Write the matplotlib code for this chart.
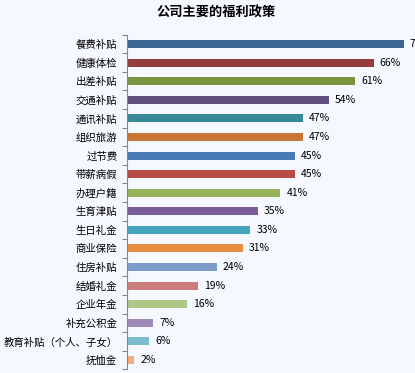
import matplotlib
matplotlib.use("Agg")
import matplotlib.pyplot as plt

plt.rcParams['font.family'] = ['Noto Sans CJK SC', 'DejaVu Sans']

categories = ["餐费补贴", "健康体检", "出差补贴", "交通补贴", "通讯补贴", "组织旅游",
              "过节费", "带薪病假", "办理户籍", "生育津贴", "生日礼金", "商业保险",
              "住房补贴", "结婚礼金", "企业年金", "补充公积金", "教育补贴（个人、子女）", "抚恤金"]
values = [74, 66, 61, 54, 47, 47, 45, 45, 41, 35, 33, 31, 24, 19, 16, 7, 6, 2]
colors = ["#3D6697", "#963D3B", "#7B9442", "#624E7F", "#39879B", "#C77634",
          "#4A7AB5", "#B64B48", "#94B35B", "#7A5E9B", "#47A3BE", "#E98D41",
          "#7E9CCA", "#CB7D7C", "#AEC786", "#9E8AB6", "#7DBBCF", "#F6AB7B"]

W, H = 415, 373
fig = plt.figure(figsize=(W/100, H/100), dpi=100)
bg = "#F5F8FE"
fig.patch.set_facecolor(bg)

left = 127 / W
right_px = 127 + 80 * 3.74
top_px, bot_px = 34.7, 369.3
ax = fig.add_axes([left, 1 - bot_px / H, (right_px - 127) / W, (bot_px - top_px) / H])
ax.set_facecolor(bg)

y = list(range(len(categories)))
ax.barh(y, values, height=0.43, color=colors)
ax.set_xlim(0, 80)
ax.set_ylim(len(categories) - 0.5, -0.5)

for yi, v in zip(y, values):
    ax.text(v + 1.6, yi, f"{v}%", va="center", ha="left", fontsize=7.5, color="black")

ax.set_yticks(y)
ax.set_yticklabels(categories, fontsize=7.5)
ax.set_yticks([i + 0.5 for i in range(-1, len(categories))], minor=True)
ax.tick_params(axis='y', which='major', length=0, pad=7)
ax.tick_params(axis='y', which='minor', length=3.5, color="#888888", width=0.8)
ax.set_xticks([])
for s in ["top", "right", "bottom"]:
    ax.spines[s].set_visible(False)
ax.spines["left"].set_color("#888888")
ax.spines["left"].set_linewidth(0.8)

fig.text(216 / W, 1 - 13 / H, "公司主要的福利政策", ha="center", va="center",
         fontsize=9.5, fontweight="bold")

fig.savefig("out.png", dpi=100, facecolor=bg)
